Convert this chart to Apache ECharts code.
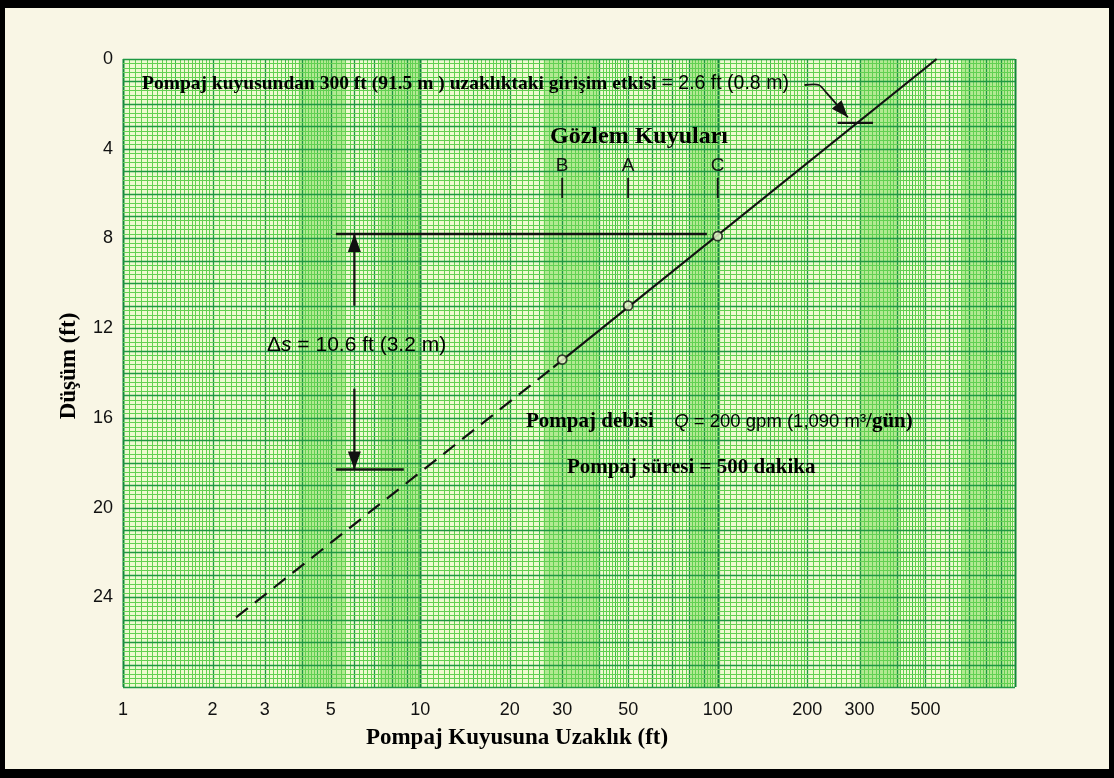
<!DOCTYPE html>
<html><head><meta charset="utf-8">
<script src="https://cdn.jsdelivr.net/npm/echarts@6/dist/echarts.min.js"></script>
<style>html,body{margin:0;padding:0;background:#f9f6e5;} #c{width:1114px;height:778px;}</style>
</head><body><div id="c"></div>
<script>
// ---- data ----
const xLabelValues = [1, 2, 3, 5, 10, 20, 30, 50, 100, 200, 300, 500];
const yLabelValues = [0, 4, 8, 12, 16, 20, 24];
const wellNames = ['B', 'A', 'C'];
const wellDistances = [30, 50, 100];
const wellDrawdowns = [13.4, 11.0, 7.9];
const fitDashed = [[2.4, 24.9], [28, 13.75]];
const fitSolid = [[28, 13.75], [545, 0]];
const deltaTopLine = [[5.2, 7.8], [92, 7.8]];
const deltaBottomLine = [[5.2, 18.3], [8.8, 18.3]];
const deltaArrowUp = [[6, 11.0], [6, 7.8]];
const deltaArrowDown = [[6, 14.7], [6, 18.3]];
const interferenceTick = [[253, 2.85], [333, 2.85]];
const interferenceLeader = [[196, 1.16], [219, 1.16], [232, 1.5], [274, 2.6]];
const wellTickRange = [5.3, 6.2];
const wellLabelDepth = 4.75;
const paperShadeBands = [[3.9, 5.6], [7.3, 10], [26, 40], [81, 102], [300, 410], [660, 970]];

// ---- semi-log paper rulings ----
function paperVerticals() {
  const out = [];
  const add = (v, l) => out.push([v, l]);
  [1, 10, 100].forEach(d => {
    for (let i = 0; i < 20; i++) { const v = 1 + i * 0.05; add(v * d, i === 0 ? 3 : (i % 10 === 0 ? 1.5 : 1)); }
    for (let i = 0; i < 30; i++) { const v = 2 + i * 0.1; add(v * d, i % 10 === 0 ? 2 : (i % 5 === 0 ? 1.5 : 1)); }
    for (let i = 0; i < 25; i++) { const v = 5 + i * 0.2; add(v * d, i % 5 === 0 ? 2 : 1); }
  });
  add(1000, 3);
  return out;
}
function paperHorizontals() {
  const out = [];
  for (let i = 0; i <= 140; i++) out.push([i * 0.2, i % 5 === 0 ? 2 : 1]);
  return out;
}
const lineStyles = {
  1: { c: '#62d052', w: 1 },
  1.5: { c: '#3fbb4e', w: 1 },
  2: { c: '#1f9842', w: 1.3 },
  3: { c: '#118639', w: 2 }
};

const chart = echarts.init(document.getElementById('c'));
const grid = { left: 123, top: 59, right: 99, bottom: 91 };

chart.setOption({
  backgroundColor: '#f9f6e5',
  animation: false,
  grid: Object.assign({ show: true, backgroundColor: '#eefad0', borderWidth: 0 }, grid),
  xAxis: {
    type: 'log', logBase: 10, min: 1, max: 1000,
    axisLine: { show: false }, axisTick: { show: false }, splitLine: { show: false },
    axisLabel: { customValues: xLabelValues, margin: 14, fontFamily: 'Liberation Sans', fontSize: 18, color: '#111', formatter: v => String(v) },
    name: 'Pompaj Kuyusuna Uzaklık (ft)', nameLocation: 'middle', nameGap: 40,
    nameTextStyle: { fontFamily: 'Liberation Serif', fontWeight: 'bold', fontSize: 23, color: '#000', padding: [0, 104, 0, 0] }
  },
  yAxis: {
    type: 'value', inverse: true, min: 0, max: 28, interval: 4,
    axisLine: { show: false }, axisTick: { show: false }, splitLine: { show: false },
    axisLabel: { margin: 10, fontFamily: 'Liberation Sans', fontSize: 18, color: '#111', formatter: v => (yLabelValues.indexOf(v) >= 0 ? String(v) : '') },
    name: 'Düşüm (ft)', nameLocation: 'middle', nameGap: 42, nameRotate: 90,
    nameTextStyle: { fontFamily: 'Liberation Serif', fontWeight: 'bold', fontSize: 23, color: '#000', padding: [0, 0, 0, 14] }
  },
  series: [
    {
      type: 'custom', name: 'shade', silent: true, z: 0,
      data: paperShadeBands.map(b => [b[0], 0, b[1], 28]),
      encode: { x: [0, 2], y: [1, 3] },
      renderItem: (p, api) => {
        const a = api.coord([api.value(0), 0]), b = api.coord([api.value(2), 28]);
        return { type: 'rect', shape: { x: a[0], y: a[1], width: b[0] - a[0], height: b[1] - a[1] }, style: { fill: 'rgba(95,210,60,0.42)' } };
      }
    },
    {
      type: 'custom', name: 'vrules', silent: true, z: 1,
      data: paperVerticals().map(r => [r[0], 14, r[1]]),
      encode: { x: 0, y: 1 },
      renderItem: (p, api) => {
        const x = api.value(0), st = lineStyles[api.value(2)];
        const a = api.coord([x, 0]), b = api.coord([x, 28]);
        const px = Math.round(a[0]) + 0.5;
        return { type: 'line', shape: { x1: px, y1: a[1], x2: px, y2: b[1] }, style: { stroke: st.c, lineWidth: st.w } };
      }
    },
    {
      type: 'custom', name: 'hrules', silent: true, z: 1,
      data: paperHorizontals().map(r => [10, r[0], r[1]]),
      encode: { x: 0, y: 1 },
      renderItem: (p, api) => {
        const y = api.value(1), st = lineStyles[api.value(2)];
        const a = api.coord([1, y]), b = api.coord([1000, y]);
        const py = Math.round(a[1]) + 0.5;
        return { type: 'line', shape: { x1: a[0], y1: py, x2: b[0], y2: py }, style: { stroke: st.c, lineWidth: st.w } };
      }
    },
    {
      type: 'line', name: 'extrapolated', data: fitDashed, symbol: 'none', z: 5,
      lineStyle: { color: '#111', width: 2.2, type: [15, 9] }
    },
    {
      type: 'line', name: 'fit', data: fitSolid, symbol: 'none', z: 5,
      lineStyle: { color: '#111', width: 2.2 }
    },
    {
      type: 'scatter', name: 'wells', z: 6,
      data: wellDistances.map((d, i) => ({ name: wellNames[i], value: [d, wellDrawdowns[i]] })),
      symbol: 'circle', symbolSize: 9,
      itemStyle: { color: '#eefad0', borderColor: '#111', borderWidth: 1.8 }
    }
  ]
});

// ---- annotations converted through the chart's own scales ----
const px = pt => chart.convertToPixel({ gridIndex: 0 }, pt);
function seg(points, width) {
  return { type: 'polyline', z: 50, shape: { points: points.map(px) }, style: { stroke: '#111', lineWidth: width || 2, fill: null } };
}
function arrowHead(points, len, half) {
  const p = points.map(px);
  const t = p[p.length - 1], s = p[p.length - 2];
  let dx = t[0] - s[0], dy = t[1] - s[1];
  const n = Math.hypot(dx, dy); dx /= n; dy /= n;
  const bx = t[0] - dx * len, by = t[1] - dy * len;
  return { type: 'polygon', z: 51, shape: { points: [t, [bx - dy * half, by + dx * half], [bx + dy * half, by - dx * half]] }, style: { fill: '#111' } };
}
const serif = 'Liberation Serif', sans = 'Liberation Sans';
const g = [];
g.push(seg(deltaTopLine, 2.6), seg(deltaBottomLine, 2.6), seg(deltaArrowUp, 2.2), seg(deltaArrowDown, 2.2));
g.push(arrowHead(deltaArrowUp, 18, 6.5), arrowHead(deltaArrowDown, 18, 6.5));
g.push(seg(interferenceTick, 2.4));
g.push({ type: 'polyline', z: 50, shape: { points: interferenceLeader.map(px), smooth: 0.25 }, style: { stroke: '#111', lineWidth: 1.8, fill: null } });
g.push(arrowHead(interferenceLeader.slice(-2), 17, 6.5));
wellDistances.forEach((d, i) => {
  g.push(seg([[d, wellTickRange[0]], [d, wellTickRange[1]]], 1.8));
  const lp = px([d, wellLabelDepth]);
  g.push({ type: 'text', z: 52, style: { text: wellNames[i], x: lp[0], y: lp[1], align: 'center', verticalAlign: 'middle', font: '19px ' + sans, fill: '#111' } });
});
g.push({ type: 'text', z: 52, style: {
  x: 142, y: 84, verticalAlign: 'middle',
  text: '{s|Pompaj kuyusundan 300 ft (91.5 m ) uzaklıktaki girişim etkisi }{a|= 2.6 ft (0.8 m)}',
  rich: { s: { fontFamily: serif, fontWeight: 'bold', fontSize: 19.5, fill: '#000' }, a: { fontFamily: sans, fontSize: 19.5, fill: '#000' } }
} });
g.push({ type: 'text', z: 52, style: { x: 550, y: 137, verticalAlign: 'middle', text: 'Gözlem Kuyuları', font: 'bold 24px ' + serif, fill: '#000' } });
g.push({ type: 'text', z: 52, style: {
  x: 267, y: 345, verticalAlign: 'middle',
  text: '{a|Δ}{i|s}{a| = 10.6 ft (3.2 m)}',
  rich: { a: { fontFamily: sans, fontSize: 21, fill: '#000' }, i: { fontFamily: sans, fontStyle: 'italic', fontSize: 21, fill: '#000' } }
} });
g.push({ type: 'text', z: 52, style: {
  x: 526, y: 422, verticalAlign: 'middle',
  text: '{s|Pompaj debisi}{a|    }{i|Q}{a| = 200 gpm (1,090 m³}{s|/gün)}',
  rich: { s: { fontFamily: serif, fontWeight: 'bold', fontSize: 21, fill: '#000' }, a: { fontFamily: sans, fontSize: 18.5, fill: '#000' }, i: { fontFamily: sans, fontStyle: 'italic', fontSize: 18.5, fill: '#000' } }
} });
g.push({ type: 'text', z: 52, style: { x: 567, y: 468, verticalAlign: 'middle', text: 'Pompaj süresi = 500 dakika', font: 'bold 21px ' + serif, fill: '#000' } });
// black scan frame
g.push({ type: 'rect', z: 100, shape: { x: 0, y: 0, width: 1114, height: 8 }, style: { fill: '#000' } });
g.push({ type: 'rect', z: 100, shape: { x: 0, y: 769, width: 1114, height: 9 }, style: { fill: '#000' } });
g.push({ type: 'rect', z: 100, shape: { x: 0, y: 0, width: 5, height: 778 }, style: { fill: '#000' } });
g.push({ type: 'rect', z: 100, shape: { x: 1109, y: 0, width: 5, height: 778 }, style: { fill: '#000' } });
chart.setOption({ graphic: g });
</script></body></html>
